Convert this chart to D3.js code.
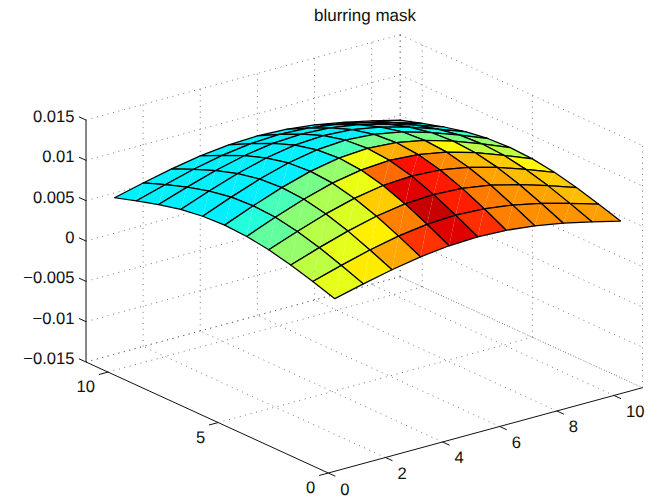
<!DOCTYPE html>
<html lang="en">
<head>
    <meta charset="UTF-8">
    <title>blurring mask</title>
    <script src="https://d3js.org/d3.v7.min.js"></script>
    <style>
      html, body { margin: 0; padding: 0; background: #fff; }
      text { font-family: "Liberation Sans", Arial, sans-serif; font-size: 16.6px; fill: #111; text-rendering: geometricPrecision; }
    </style>
</head>
<body>
    <script>

      const titleText = "blurring mask";

      // tick values
      const xTicks = [0, 2, 4, 6, 8, 10];
      const yTicks = [0, 5, 10];
      const zTicks = [-0.015, -0.01, -0.005, 0, 0.005, 0.01, 0.015];
      const zTickLabels = ["\u22120.015", "\u22120.01", "\u22120.005", "0", "0.005", "0.01", "0.015"];

      // grid positions of the surface
      const gridX = [1, 2, 3, 4, 5, 6, 7, 8, 9, 10, 11];
      const gridY = [1, 2, 3, 4, 5, 6, 7, 8, 9, 10, 11];

      // surface height, one row per gridY value
      const heights = [
        [0.00440, 0.00527, 0.00606, 0.00670, 0.00711, 0.00726, 0.00711, 0.00670, 0.00606, 0.00527, 0.00440],
        [0.00527, 0.00631, 0.00726, 0.00802, 0.00852, 0.00869, 0.00852, 0.00802, 0.00726, 0.00631, 0.00527],
        [0.00606, 0.00726, 0.00835, 0.00923, 0.00980, 0.00999, 0.00980, 0.00923, 0.00835, 0.00726, 0.00606],
        [0.00670, 0.00802, 0.00923, 0.01019, 0.01083, 0.01104, 0.01083, 0.01019, 0.00923, 0.00802, 0.00670],
        [0.00711, 0.00852, 0.00980, 0.01083, 0.01149, 0.01173, 0.01149, 0.01083, 0.00980, 0.00852, 0.00711],
        [0.00726, 0.00869, 0.00999, 0.01104, 0.01173, 0.01196, 0.01173, 0.01104, 0.00999, 0.00869, 0.00726],
        [0.00711, 0.00852, 0.00980, 0.01083, 0.01149, 0.01173, 0.01149, 0.01083, 0.00980, 0.00852, 0.00711],
        [0.00670, 0.00802, 0.00923, 0.01019, 0.01083, 0.01104, 0.01083, 0.01019, 0.00923, 0.00802, 0.00670],
        [0.00606, 0.00726, 0.00835, 0.00923, 0.00980, 0.00999, 0.00980, 0.00923, 0.00835, 0.00726, 0.00606],
        [0.00527, 0.00631, 0.00726, 0.00802, 0.00852, 0.00869, 0.00852, 0.00802, 0.00726, 0.00631, 0.00527],
        [0.00440, 0.00527, 0.00606, 0.00670, 0.00711, 0.00726, 0.00711, 0.00670, 0.00606, 0.00527, 0.00440]
      ];

      // colour of each facet on the jet colormap (0-1), one row per gridY cell
      const facetColours = [
        [0.60, 0.645, 0.71, 0.825, 0.905, 0.83, 0.75, 0.735, 0.73, 0.72],
        [0.56, 0.60, 0.64, 0.75, 0.93, 0.845, 0.755, 0.73, 0.715, 0.69],
        [0.52, 0.555, 0.59, 0.675, 0.905, 0.85, 0.755, 0.715, 0.69, 0.675],
        [0.47, 0.51, 0.545, 0.605, 0.77, 0.86, 0.74, 0.69, 0.675, 0.63],
        [0.41, 0.445, 0.49, 0.52, 0.61, 0.705, 0.69, 0.63, 0.56, 0.56],
        [0.36, 0.36, 0.36, 0.365, 0.445, 0.49, 0.49, 0.495, 0.495, 0.52],
        [0.36, 0.36, 0.36, 0.36, 0.36, 0.36, 0.37, 0.38, 0.40, 0.43],
        [0.36, 0.36, 0.36, 0.36, 0.36, 0.36, 0.36, 0.37, 0.37, 0.38],
        [0.36, 0.36, 0.36, 0.36, 0.36, 0.36, 0.36, 0.36, 0.36, 0.37],
        [0.36, 0.36, 0.36, 0.36, 0.36, 0.36, 0.36, 0.36, 0.36, 0.36]
      ];

      const width = 659, height = 499;

      const jet = d3.scaleLinear()
        .domain([0, 0.125, 0.375, 0.625, 0.875, 1])
        .range(["#00007f", "#0000ff", "#00ffff", "#ffff00", "#ff0000", "#7f0000"]);

      // the box corners on screen at the floor level
      const front = [328.3, 473], right = [642.5, 387.7], left = [86, 362];

      const xScale = d3.scaleLinear().domain([0, 11]).range([0, 1]);
      const yScale = d3.scaleLinear().domain([0, 11]).range([0, 1]);
      const zScale = d3.scaleLinear().domain([-0.015, 0.015]).range([0, 242]);

      function project(x, y, z){
        var a = xScale(x), b = yScale(y);
        return [
          front[0] + a * (right[0] - front[0]) + b * (left[0] - front[0]),
          front[1] + a * (right[1] - front[1]) + b * (left[1] - front[1]) - zScale(z)
        ];
      }

      const line = d3.line();
      const svg = d3.select("body").append("svg").attr("width", width).attr("height", height);

      // Dotted grid on the floor and the two back walls
      const zMin = -0.015, zMax = 0.015;
      const gridLines = [];
      xTicks.slice(1).concat([11]).forEach((x) => {
        gridLines.push([[x, 0, zMin], [x, 11, zMin]]);
        gridLines.push([[x, 11, zMin], [x, 11, zMax]]);
      });
      yTicks.slice(1).concat([11]).forEach((y) => {
        gridLines.push([[0, y, zMin], [11, y, zMin]]);
        gridLines.push([[11, y, zMin], [11, y, zMax]]);
      });
      gridLines.push([[11, 0, zMin], [11, 0, zMax]]);
      zTicks.forEach((z) => {
        gridLines.push([[0, 11, z], [11, 11, z]]);
        gridLines.push([[11, 11, z], [11, 0, z]]);
      });

      svg.append("g").selectAll("path")
        .data(gridLines)
        .enter().append("path")
        .attr("d", (d) => line(d.map((p) => project(p[0], p[1], p[2]))))
        .attr("fill", "none")
        .attr("stroke", "#555")
        .attr("stroke-width", 0.8)
        .attr("stroke-dasharray", "1 4.6");

      // Solid axis lines
      const axisLines = [
        [[0, 0, zMin], [11, 0, zMin]],
        [[0, 0, zMin], [0, 11, zMin]],
        [[0, 11, zMin], [0, 11, zMax]]
      ];
      svg.append("g").selectAll("path")
        .data(axisLines)
        .enter().append("path")
        .attr("d", (d) => line(d.map((p) => project(p[0], p[1], p[2]))))
        .attr("fill", "none")
        .attr("stroke", "#111")
        .attr("stroke-width", 1);

      // Tick marks, each one runs along one of the other axes
      const tickLen = 0.32;
      const ticks = [];
      xTicks.forEach((x) => ticks.push([[x, 0, zMin], [x, -tickLen, zMin]]));
      yTicks.forEach((y) => ticks.push([[0, y, zMin], [-tickLen, y, zMin]]));
      zTicks.forEach((z) => ticks.push([[0, 11, z], [0, 11 + tickLen, z]]));
      svg.append("g").selectAll("path")
        .data(ticks)
        .enter().append("path")
        .attr("d", (d) => line(d.map((p) => project(p[0], p[1], p[2]))))
        .attr("fill", "none")
        .attr("stroke", "#111")
        .attr("stroke-width", 1);

      // Tick labels
      svg.append("g").selectAll("text")
        .data(xTicks)
        .enter().append("text")
        .attr("x", (d) => project(d, 0, zMin)[0] + 12)
        .attr("y", (d) => project(d, 0, zMin)[1] + 21.5)
        .text((d) => d);

      svg.append("g").selectAll("text")
        .data(yTicks)
        .enter().append("text")
        .attr("text-anchor", "end")
        .attr("x", (d) => project(0, d, zMin)[0] - 13)
        .attr("y", (d) => project(0, d, zMin)[1] + 20)
        .text((d) => d);

      svg.append("g").selectAll("text")
        .data(zTicks)
        .enter().append("text")
        .attr("text-anchor", "end")
        .attr("x", 74.5)
        .attr("y", (d) => project(0, 11, d)[1] + 2)
        .text((d, i) => zTickLabels[i]);

      svg.append("text")
        .attr("x", 365)
        .attr("y", 21)
        .attr("text-anchor", "middle")
        .style("font-size", "17px")
        .text(titleText);

      // Surface facets, painted from the back corner forward
      const facets = [];
      for(var j = facetColours.length - 1; j >= 0; j--){
        for(var i = facetColours[j].length - 1; i >= 0; i--){
          facets.push({i: i, j: j, colour: facetColours[j][i]});
        }
      }

      function corner(i, j){
        return project(gridX[i], gridY[j], heights[j][i]);
      }

      const facetGroup = svg.append("g").selectAll("g")
        .data(facets)
        .enter().append("g");

      // Two triangles per facet, the seam between them is left visible
      facetGroup.append("path")
        .attr("d", (d) => line([corner(d.i, d.j), corner(d.i, d.j + 1), corner(d.i + 1, d.j + 1)]) + "Z")
        .attr("fill", (d) => jet(d.colour));
      facetGroup.append("path")
        .attr("d", (d) => line([corner(d.i, d.j), corner(d.i + 1, d.j), corner(d.i + 1, d.j + 1)]) + "Z")
        .attr("fill", (d) => jet(d.colour));
      facetGroup.append("path")
        .attr("d", (d) => line([corner(d.i, d.j), corner(d.i + 1, d.j), corner(d.i + 1, d.j + 1), corner(d.i, d.j + 1)]) + "Z")
        .attr("fill", "none")
        .attr("stroke", "#000")
        .attr("stroke-width", 1.25)
        .attr("stroke-linejoin", "round");

    </script>
</body>
</html>
